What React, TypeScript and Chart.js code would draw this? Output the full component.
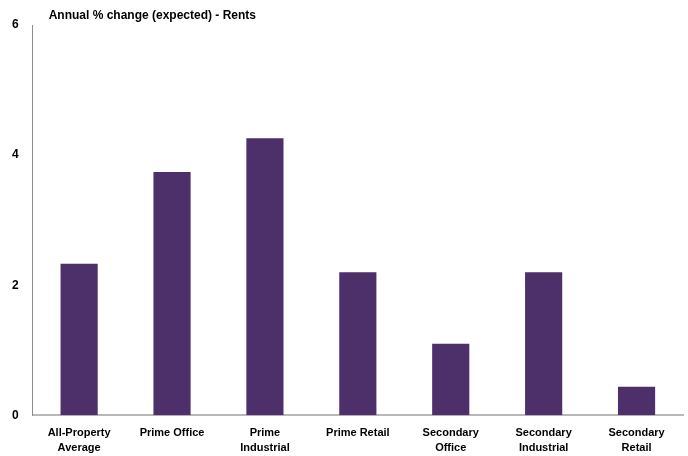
import React, { useEffect, useRef } from "react";
import { Chart, registerables } from "chart.js";

Chart.register(...registerables);

const categories: string[][] = [
  ["All-Property", "Average"],
  ["Prime Office"],
  ["Prime", "Industrial"],
  ["Prime Retail"],
  ["Secondary", "Office"],
  ["Secondary", "Industrial"],
  ["Secondary", "Retail"],
];
const rentChange: number[] = [2.33, 3.74, 4.26, 2.2, 1.1, 2.2, 0.44];
const yTicks: number[] = [0, 2, 4, 6];
const chartTitle = "Annual % change (expected) - Rents";

const family = '"Liberation Sans", Arial, sans-serif';

const titlePlugin = {
  id: "cornerTitle",
  afterDraw(chart: any) {
    const { ctx, chartArea } = chart;
    ctx.save();
    ctx.font = 'bold 12px "Liberation Sans", Arial, sans-serif';
    ctx.fillStyle = "#000";
    ctx.textBaseline = "middle";
    ctx.textAlign = "left";
    ctx.fillText(chartTitle, chartArea.left + 16, chartArea.top - 9);
    ctx.restore();
  },
};

export default function App() {
  const ref = useRef<HTMLCanvasElement>(null);
  useEffect(() => {
    if (!ref.current) return;
    const chart = new Chart(ref.current, {
      type: "bar",
      data: {
        labels: categories,
        datasets: [
          {
            data: rentChange,
            backgroundColor: "#4d2f69",
            borderWidth: 0,
            barPercentage: 0.4,
            categoryPercentage: 1,
          },
        ],
      },
      options: {
        responsive: false,
        animation: false,
        layout: { padding: { top: 25, right: 5, bottom: -9, left: -2 } },
        plugins: {
          legend: { display: false },
          tooltip: { enabled: false },
          title: { display: false },
        },
        scales: {
          x: {
            grid: { display: false, drawTicks: false },
            border: { display: true, color: "#b8b8b8", width: 2 },
            ticks: {
              color: "#000",
              maxRotation: 0,
              autoSkip: false,
              padding: 10,
              font: { family, size: 11, weight: "bold", lineHeight: 1.35 },
            },
          },
          y: {
            min: 0,
            max: 6,
            afterBuildTicks(axis: any) {
              axis.ticks = yTicks.map((v) => ({ value: v }));
            },
            grid: { display: false, drawTicks: false },
            border: { display: true, color: "#8c8c8c", width: 1 },
            ticks: {
              color: "#000",
              padding: 14,
              font: { family, size: 12, weight: "bold" },
            },
          },
        },
      },
      plugins: [titlePlugin],
    });
    return () => chart.destroy();
  }, []);
  return (
    <div style={{ position: "fixed", left: 0, top: 0, width: 688, height: 456, background: "#fff" }}>
      <canvas ref={ref} width={688} height={456} />
    </div>
  );
}
